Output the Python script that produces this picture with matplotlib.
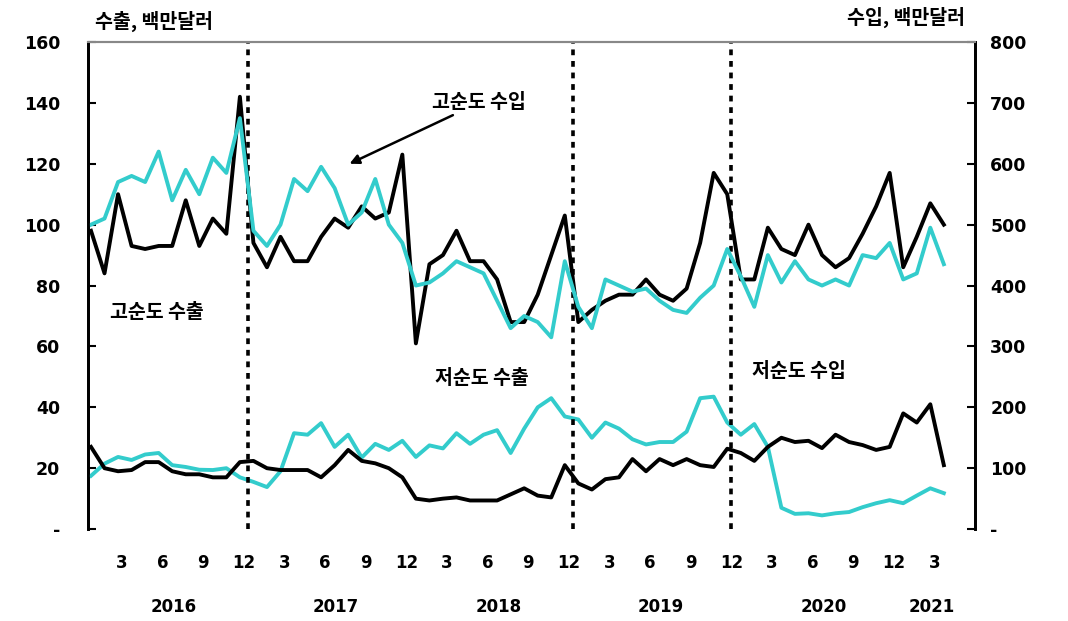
import matplotlib
matplotlib.use('Agg')
import matplotlib.pyplot as plt
import matplotlib.transforms as mtransforms

plt.rcParams['font.family'] = ['Noto Sans CJK KR', 'DejaVu Sans']
plt.rcParams['axes.unicode_minus'] = False

# 월별 데이터: 2016.01 ~ 2021.04 (64개월)
years = [2016, 2017, 2018, 2019, 2020, 2021]
n_months = 64

# 고순도 수출 (좌축, 백만달러)
hp_exp = [98, 84, 110, 93, 92, 93, 93, 108, 93, 102, 97, 142,
          94, 86, 96, 88, 88, 96, 102, 99, 106, 102, 104, 123,
          61, 87, 90, 98, 88, 88, 82, 68, 68, 77, 90, 103,
          68, 72, 75, 77, 77, 82, 77, 75, 79, 94, 117, 110,
          82, 82, 99, 92, 90, 100, 90, 86, 89, 97, 106, 117,
          86, 96, 107, 100]
# 고순도 수입 (우축, 백만달러)
hp_imp = [500, 510, 570, 580, 570, 620, 540, 590, 550, 610, 585, 675,
          490, 465, 500, 575, 555, 595, 560, 500, 520, 575, 500, 470,
          400, 405, 420, 440, 430, 420, 375, 330, 350, 340, 315, 440,
          365, 330, 410, 400, 390, 395, 375, 360, 355, 380, 400, 460,
          415, 365, 450, 405, 440, 410, 400, 410, 400, 450, 445, 470,
          410, 420, 495, 435]
# 저순도 수출 (좌축, 백만달러)
lp_exp = [17.5, 21.5, 23.7, 22.7, 24.5, 25, 21, 20.4, 19.5, 19.4, 20, 17,
          15.5, 13.8, 19, 31.5, 31, 34.8, 27, 31, 23.5, 28, 26, 29,
          23.7, 27.5, 26.5, 31.5, 28, 31, 32.5, 25, 33, 40, 43, 37,
          36, 30, 35, 33, 29.5, 27.8, 28.6, 28.6, 32, 43, 43.5, 35,
          31, 34.5, 27, 7, 5, 5.2, 4.5, 5.2, 5.6, 7.2, 8.5, 9.5,
          8.5, 11, 13.4, 11.8]
# 저순도 수입 (우축, 백만달러)
lp_imp = [135, 100, 95, 97, 110, 110, 95, 90, 90, 85, 85, 110,
          112, 100, 97, 97, 97, 85, 105, 130, 112, 108, 100, 85,
          50, 47, 50, 52, 47, 47, 47, 57, 67, 55, 52, 105,
          75, 65, 82, 85, 115, 95, 115, 105, 115, 105, 102, 132,
          125, 112, 135, 150, 143, 145, 133, 155, 143, 138, 130, 135,
          190, 175, 205, 105]

left_ticks = [0, 20, 40, 60, 80, 100, 120, 140, 160]
left_labels = ['-', '20', '40', '60', '80', '100', '120', '140', '160']
right_ticks = [0, 100, 200, 300, 400, 500, 600, 700, 800]
right_labels = ['-', '100', '200', '300', '400', '500', '600', '700', '800']
year_breaks = [11.6, 35.6, 47.3]

black = '#000000'
teal = '#33cccc'

x = list(range(n_months))

fig = plt.figure(figsize=(10.68, 6.21), dpi=100)
ax = fig.add_axes([0.0824, 0.148, 0.8305, 0.7844])
ax2 = ax.twinx()

ax.plot(x, hp_exp, color=black, lw=2.8, zorder=3)
ax.plot(x, lp_exp, color=teal, lw=2.8, zorder=3)
ax2.plot(x, hp_imp, color=teal, lw=2.8, zorder=2)
ax2.plot(x, lp_imp, color=black, lw=2.8, zorder=2)

for xb in year_breaks:
    ax.axvline(xb, color=black, lw=2.6, linestyle=(0, (1.6, 1.6)), zorder=4)

ax.set_xlim(-0.22, 65.3)
ax.set_ylim(0, 160)
ax2.set_ylim(0, 800)

ax.set_yticks(left_ticks)
ax.set_yticklabels(left_labels, fontsize=12.5, fontweight='bold', family='DejaVu Sans')
ax2.set_yticks(right_ticks)
ax2.set_yticklabels(right_labels, fontsize=12.5, fontweight='bold', family='DejaVu Sans')
ax.tick_params(axis='y', direction='in', length=6, width=1.5, pad=20)
ax2.tick_params(axis='y', direction='in', length=6, width=1.5, pad=11)
ax.set_xticks([])

for a in (ax, ax2):
    a.spines['bottom'].set_visible(False)
    a.spines['top'].set_color('#888888')
    a.spines['top'].set_linewidth(1.5)
    a.spines['left'].set_linewidth(2)
    a.spines['right'].set_linewidth(2)

# x축 월/연도 라벨
trans = mtransforms.blended_transform_factory(ax.transData, ax.transAxes)
for i in x:
    mon = i % 12 + 1
    if mon % 3 == 0:
        ax.text(i + 0.3, -0.07, str(mon), transform=trans, ha='center', va='center',
                fontsize=12, fontweight='bold', family='DejaVu Sans')
for k, yr in enumerate(years):
    idx = [i for i in x if i // 12 == k]
    ax.text(sum(idx) / len(idx) + 0.6, -0.16, str(yr), transform=trans,
            ha='center', va='center', fontsize=12, fontweight='bold',
            family='DejaVu Sans')

# 단위
fig.text(0.089, 0.965, '수출, 백만달러', fontsize=14, fontweight='bold',
         ha='left', va='center')
fig.text(0.904, 0.972, '수입, 백만달러', fontsize=14, fontweight='bold',
         ha='right', va='center')

# 주석
ax.annotate('고순도 수입', xy=(19.1, 120), xytext=(25.2, 140),
            fontsize=14, fontweight='bold', ha='left', va='center',
            arrowprops=dict(arrowstyle='-|>', color=black, lw=1.8,
                            shrinkA=0, shrinkB=0, mutation_scale=14))
ax.text(1.4, 71, '고순도 수출', fontsize=14, fontweight='bold', ha='left', va='center')
ax.text(25.4, 49.6, '저순도 수출', fontsize=14, fontweight='bold', ha='left', va='center')
ax.text(48.8, 51.6, '저순도 수입', fontsize=14, fontweight='bold', ha='left', va='center')

fig.savefig('out.png', dpi=100)
